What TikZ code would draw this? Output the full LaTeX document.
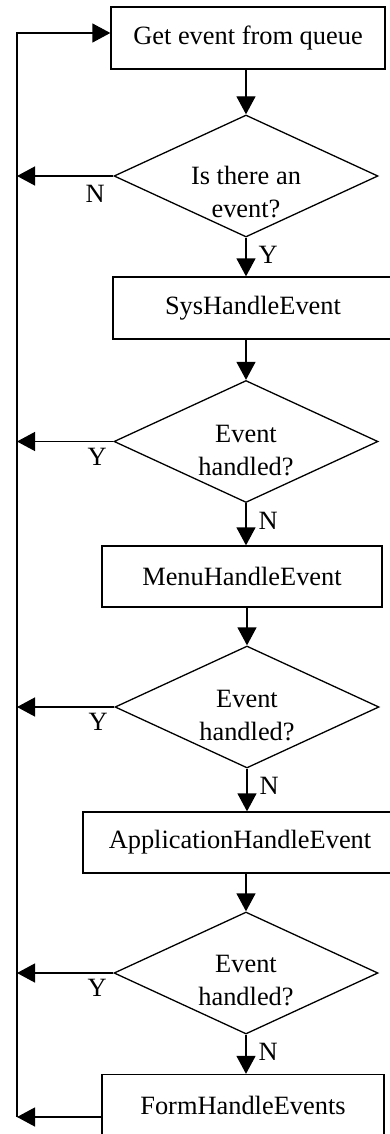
\documentclass[tikz,border=0pt]{standalone}
\usepackage{fontspec}
\setmainfont{Liberation Serif}
\usepackage{tikz}
\usetikzlibrary{shapes.geometric, arrows.meta}

\begin{document}
\begin{tikzpicture}[x=0.5pt,y=-0.5pt,>={Triangle[length=9pt,width=9.5pt]},line width=0.65pt,font=\fontsize{13.2}{16.5}\selectfont]
\tikzstyle{proc} = [rectangle, draw=black, minimum height=31pt, inner sep=0pt]
\tikzstyle{decision} = [diamond, draw=black, aspect=2.16, minimum width=132pt, minimum height=61pt, inner sep=0pt]
\tikzstyle{qtext} = [align=center, inner sep=0pt, anchor=north]
\tikzstyle{lbl} = [inner sep=0pt]

\useasboundingbox (0,0) rectangle (390,1134);

% boxes
\node[proc, minimum width=137pt] (get) at (248,38) {Get event from queue};
\node[proc, minimum width=140pt] (sys) at (253,308) {SysHandleEvent};
\node[proc, minimum width=140pt, minimum height=30.5pt] (menu) at (242,576.5) {MenuHandleEvent};
\node[proc, minimum width=157pt, minimum height=30.5pt] (app) at (240,842.5) {ApplicationHandleEvent};
\node[proc, minimum width=141pt] (form) at (243,1105.5) {FormHandleEvents};

% decisions
\node[decision] (q1) at (246,176) {};
\node[qtext] (q1t) at ([yshift=5pt]q1.center) {Is there an\\event?};
\node[decision] (q2) at (246,441.5) {};
\node[qtext] (q2t) at ([yshift=8.7pt]q2.center) {Event\\handled?};
\node[decision] (q3) at (247,707) {};
\node[qtext] (q3t) at ([yshift=8.7pt]q3.center) {Event\\handled?};
\node[decision] (q4) at (246,973) {};
\node[qtext] (q4t) at ([yshift=9.4pt]q4.center) {Event\\handled?};

% return line
\coordinate (rt) at (17,33);
\coordinate (rb) at (17,1117);
\draw[->] (rb) -- (rt) -- (rt -| get.west);
\draw[->] (form.west |- rb) -- (rb);

% main flow
\draw[->] (get.south -| q1.north) -- (q1.north);
\draw[->] (q1.south) -- (q1.south |- sys.north) node[lbl, pos=0, anchor=north west, xshift=6pt, yshift=-4pt] {Y};
\draw[->] (sys.south -| q2.north) -- (q2.north);
\draw[->] (q2.south) -- (q2.south |- menu.north) node[lbl, pos=0, anchor=north west, xshift=6pt, yshift=-4pt] {N};
\draw[->] (menu.south -| q3.north) -- (q3.north);
\draw[->] (q3.south) -- (q3.south |- app.north) node[lbl, pos=0, anchor=north west, xshift=6pt, yshift=-4pt] {N};
\draw[->] (app.south -| q4.north) -- (q4.north);
\draw[->] (q4.south) -- (q4.south |- form.north) node[lbl, pos=0, anchor=north west, xshift=6pt, yshift=-4pt] {N};

% back to the queue
\draw[->] (q1.west) -- (q1.west -| rt) node[lbl, pos=0, anchor=north east, xshift=-4pt, yshift=-4.5pt] {N};
\draw[->] (q2.west) -- (q2.west -| rt) node[lbl, pos=0, anchor=north east, xshift=-3pt, yshift=-3pt] {Y};
\draw[->] (q3.west) -- (q3.west -| rt) node[lbl, pos=0, anchor=north east, xshift=-3pt, yshift=-3pt] {Y};
\draw[->] (q4.west) -- (q4.west -| rt) node[lbl, pos=0, anchor=north east, xshift=-3pt, yshift=-3pt] {Y};

\end{tikzpicture}
\end{document}
